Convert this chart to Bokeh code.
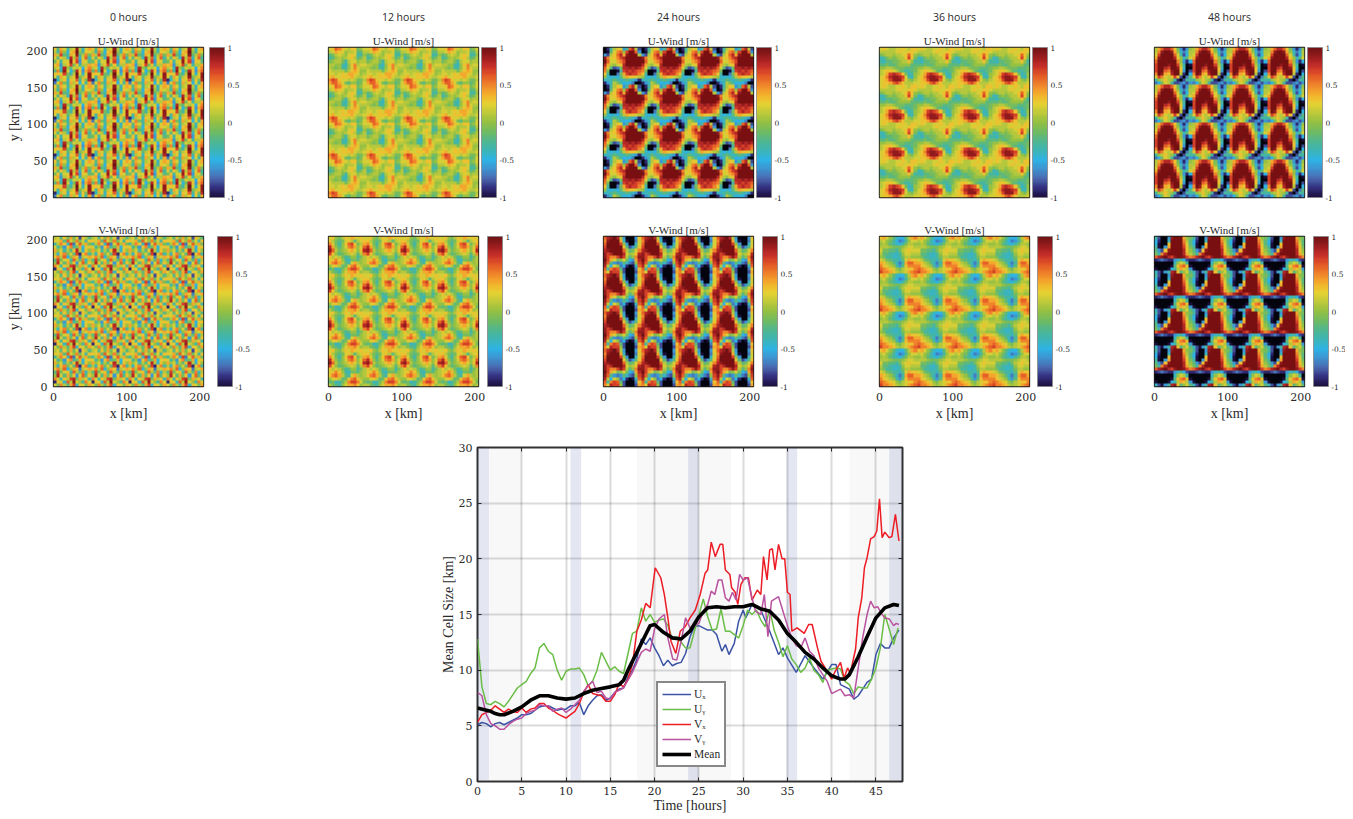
import numpy as np
from bokeh.embed import file_html
from bokeh.resources import INLINE
from bokeh.plotting import figure
from bokeh.layouts import column, row
from bokeh.models import (ColorBar, FixedTicker, Legend, LegendItem, LinearAxis, LinearColorMapper,
                          Range1d, Title)

hours_labels = ["0 hours", "12 hours", "24 hours", "36 hours", "48 hours"]

# One repeating tile of each panel, in tenths of m/s (top row first)
u_00 = [[3,-2,4,2,-3,1,2,9,1,-4,2,4],[1,-3,5,0,-5,3,4,10,0,-3,3,2],[4,1,7,-2,-3,4,2,9,-2,1,5,-1],
        [2,-2,3,1,-4,8,1,6,-4,2,6,-3],[-1,3,-3,2,2,9,3,7,-6,3,2,-2],[3,4,-6,1,3,7,-1,3,-3,1,1,4],
        [1,2,-4,8,0,-2,2,1,2,-5,3,5],[-2,5,-3,9,2,-5,-1,8,3,-6,4,6],[3,3,2,7,-1,-3,1,10,2,-4,2,9],
        [2,-3,4,2,-2,1,3,9,-1,1,3,9],[-9,-4,1,3,-4,3,2,6,-3,3,-1,8],[-7,2,5,-1,-3,4,1,3,-5,2,-3,4]]
u_12 = [[2,3,6,5,3,2,1,3,3,-1,0,2],[1,2,4,3,2,0,1,1,2,-2,-2,1],[-2,-1,1,2,1,0,2,3,2,-3,-3,0],
        [-3,-2,0,1,0,1,2,3,1,-2,-1,1],[-1,0,1,1,-1,-3,1,2,2,0,1,1],[1,1,0,0,-3,-4,0,3,5,1,2,2],
        [1,0,-1,0,-3,-3,0,2,5,2,1,1],[2,1,1,1,1,-1,1,3,4,3,0,0],[2,2,1,2,3,2,4,4,3,2,0,1],
        [3,4,2,2,3,3,3,4,2,1,1,2],[5,7,6,3,2,2,1,2,1,-1,-1,1],[4,6,6,4,2,-1,-2,0,0,-2,-1,2]]
u_24 = [[-12,-9,-3,1,3,2,-6,-3,6,8,1,-8],[-12,-10,-2,2,5,6,0,7,11,11,6,-6],[-6,-8,1,3,6,8,4,9,11,12,11,1],
        [9,5,2,3,5,7,8,11,12,11,12,10],[10,6,2,2,4,5,7,11,12,12,12,11],[8,4,1,0,2,3,8,10,11,11,12,11],
        [6,2,-2,-8,-7,-1,8,8,9,8,9,8],[5,-1,-11,-12,-10,-3,7,8,7,8,7,6],[3,-3,-12,-11,-7,-1,4,7,8,7,7,5],
        [0,-4,-5,-4,-5,-2,1,4,3,3,2,1],[-4,-4,-3,-2,-3,-4,-3,-2,-3,-4,-6,-9],[-9,-6,-4,1,-1,-3,-5,-5,-5,-7,-11,-12]]
u_36 = [[2,3,2,1,1,2,2,3,2,1,3,3],[1,1,1,1,1,2,3,2,2,3,3,2],[-1,0,1,1,0,1,1,2,3,6,3,0],
        [-4,-3,-1,0,-1,0,1,1,3,7,3,-1],[-3,-4,-2,-2,-1,-1,0,1,1,3,0,-3],[-2,-2,-1,-2,-2,-1,0,0,0,0,-2,-2],
        [0,0,1,1,0,-1,-1,-1,-2,-2,-2,-1],[1,2,3,3,2,1,-1,-2,-3,-3,-2,-1],[1,2,4,7,8,7,6,3,-1,-4,-3,0],
        [2,3,5,8,9,9,8,7,2,-3,-4,0],[2,3,4,7,9,9,9,6,2,0,-1,1],[2,3,3,4,6,7,5,3,1,1,1,2]]
u_48 = [[1,4,6,8,8,6,3,-1,-6,-9,-6,0],[1,5,9,10,11,9,4,0,-4,-7,-4,1],[2,7,10,11,11,10,6,2,-3,-8,-5,1],
        [4,9,11,11,12,11,8,3,0,-4,-2,2],[6,10,12,11,10,12,10,5,0,-6,-9,-5],[7,11,12,10,9,11,11,7,1,-3,-11,-10],
        [7,11,11,8,7,10,12,9,3,-4,-11,-12],[7,11,10,6,5,9,12,10,3,-6,-12,-8],[5,10,9,4,3,8,11,10,1,-9,-12,-5],
        [2,7,5,2,1,3,7,3,-8,-12,-7,-2],[-3,0,1,3,1,0,-3,-9,-12,-8,-3,-3],[-7,-5,-1,2,1,-3,-8,-8,-7,-6,-8,-6]]
v_00 = [[1,2,-2,3,-1,4,-1,2,-8,3,1,-2],[3,2,4,-2,6,2,0,5,-1,2,-3,3],[-3,1,5,3,-4,7,-7,2,6,1,4,-1],
        [2,-3,0,-6,3,5,-3,-1,4,-5,2,3],[4,0,2,-3,1,-2,3,8,1,-4,3,0],[1,-4,3,5,-1,2,-2,7,-9,3,5,-3],
        [3,5,1,6,-5,0,4,3,-7,1,2,4],[-2,7,-1,2,3,-3,6,1,-2,5,-4,1],[0,8,2,-2,4,-1,3,-6,2,6,-2,3],
        [5,2,-3,3,1,7,8,-1,4,1,3,-3],[-9,3,2,-4,6,1,9,2,0,-3,5,2],[2,-1,5,1,-2,4,7,-4,3,2,-1,4]]
v_12 = [[2,3,0,-1,1,3,2,4,3,2,3,2],[3,1,-1,-2,-1,2,3,1,-2,1,2,3],[5,2,-1,-3,0,3,6,7,3,-1,1,4],
        [8,4,0,-2,0,2,5,6,4,0,2,6],[9,6,1,-1,0,1,3,4,2,0,3,8],[7,3,0,-2,-1,0,1,2,1,-2,1,5],
        [3,1,2,1,-1,-3,-2,0,0,-3,-1,1],[2,3,5,3,0,-3,-4,-1,-1,-2,0,1],[3,5,6,4,1,-2,-3,2,4,1,0,1],
        [0,2,3,1,-2,-1,3,5,6,3,1,0],[-2,-1,-4,-3,-1,1,5,7,7,5,2,-1],[1,-1,-2,-3,0,2,4,4,5,3,0,1]]
v_24 = [[6,8,9,10,8,1,-6,-11,-12,-12,-6,3],[5,9,11,11,10,4,-4,-10,-12,-12,-7,2],[6,10,12,12,11,7,0,-6,-11,-11,-4,2],
        [7,10,12,12,12,10,3,-2,-8,-6,-2,3],[8,9,11,12,12,11,6,1,-2,-1,2,5],[9,7,8,11,12,11,8,2,0,1,3,8],
        [9,7,5,5,7,9,7,1,-2,0,5,9],[10,7,4,2,-1,0,2,-1,-5,-6,4,8],[9,6,-2,-6,-7,-6,-2,-4,-7,-8,0,7],
        [8,1,-5,2,0,-7,-5,-9,-11,-10,-4,6],[6,-3,5,7,6,-2,-8,-12,-12,-12,-7,3],[5,2,8,7,7,0,-8,-12,-12,-12,-8,4]]
v_36 = [[3,4,2,0,-2,-4,-5,-5,-2,1,4,5],[1,2,0,-1,-3,-5,-7,-6,-3,0,2,2],[0,1,0,-2,-3,-4,-5,-3,-1,1,1,0],
        [1,1,1,0,-1,-1,-1,0,1,2,2,1],[2,-1,-1,-2,-2,-3,-1,1,2,3,2,2],[1,-2,-2,-3,-4,-4,-3,0,2,2,1,1],
        [0,-1,-3,-3,-4,-4,-3,-1,1,1,0,0],[2,1,-1,-2,-3,-3,-4,-2,2,4,3,3],[4,3,1,0,-2,-4,-7,-3,4,6,6,4],
        [5,3,2,1,0,-3,-6,-2,3,5,5,5],[6,5,4,3,2,0,-1,1,2,3,3,5],[7,5,5,4,3,1,0,1,2,4,5,6]]
v_48 = [[-3,-8,-12,-12,-6,9,12,12,11,4,0,-1],[-5,-9,-12,-12,-4,11,12,12,12,5,1,-2],[-5,-10,-12,-11,3,12,12,12,12,6,2,-2],
        [-3,-10,-12,-6,4,12,12,12,12,7,3,-1],[-2,-6,-8,3,9,12,12,12,11,8,3,0],[-1,-3,5,8,11,12,12,12,10,8,4,1],
        [6,8,9,10,8,7,9,11,11,9,7,5],[-9,-8,-7,-8,-9,-9,-6,-4,-3,-5,-8,-9],[-12,-12,-12,-12,-12,-12,-4,0,2,1,-3,-12],
        [-12,-12,-12,-12,-12,-10,-2,3,5,6,3,-10],[-10,-12,-12,-12,-10,-5,-3,1,4,3,1,-6],[-4,-8,-10,-6,-3,8,9,3,-2,0,2,-2]]

# Line chart series
half_hours = [i / 2 for i in range(34)]
ux_a = [5.1,5.3,5.2,4.9,5.2,5.3,5.1,5.3,5.5,5.7,6.0,6.0,6.1,6.4,6.7,6.8,6.8,6.6,6.4,6.5,6.5,6.8,6.8,7.1,6.0,6.8,7.3,7.7,7.8,7.3,7.5,8.0,8.3,8.4]
ux_h = half_hours + [17,17.5,18,18.5,19,19.5,20,20.5,21,21.5,22,22.5,23,23.5,24,24.5,25,25.5,26,26.5,27,27.6,28,28.4,29,29.5,30,30.3,31,32,33,34,34.5,35,36,37,38,39,40,40.5,41,42,42.5,43,44,44.5,45,45.5,46,46.5,47,47.6]
ux = ux_a + [9.4,10,11,12.8,12.3,12.9,12,11.3,10.4,10.9,10.4,10.6,10.7,11.5,13,13.9,14,13.8,13.6,13.6,13.2,11.7,12.3,11.4,12.4,14.4,15.4,14.7,15.9,15.4,13.5,11.4,12,11.1,9.8,11.3,10.2,9.2,10.5,10.5,8.7,8.3,7.4,7.7,8.9,9.2,11.4,12.4,12,12,12.9,13.6]
uy_h = [i / 2 for i in range(96)]
uy = [12.8,8.5,7.0,6.9,7.2,7.0,6.7,7.2,7.8,8.4,8.7,9.0,9.7,10.2,12.0,12.4,11.7,11.4,10.0,9.1,9.9,10.1,10.1,10.2,9.6,8.6,9.0,10.0,11.6,10.8,10.0,10.3,9.9,9.7,
      11.5,13.3,13.5,15.6,14.4,15.0,14.3,14.5,14.6,14.0,12.8,13.0,12.5,12.0,12.0,13.5,14.9,16.4,14.8,13.6,13.7,15.5,13.5,13.5,13.2,12.9,14.0,15.4,15.0,15.4,14.5,13.9,15.5,13.6,12.5,11.2,
      12.2,11.0,10.5,9.8,10.2,11.1,10.0,9.6,8.9,10.0,10.1,10.2,10.1,9.0,8.7,7.9,8.5,8.4,8.4,9.2,10.2,12.0,15.0,13.7,12.3,13.8]
vx_h = half_hours + [17,17.5,18,18.5,19,19.5,20.07,20.7,21.1,21.5,21.85,22.4,22.9,23.45,24,24.6,25.15,25.7,26,26.4,26.85,27.4,27.7,28,28.5,28.7,29.1,29.4,29.75,30.2,30.6,31,31.6,32,32.3,32.7,33,33.3,33.6,34,34.4,34.7,35,35.3,35.5,36.1,36.9,37.4,37.8,38.4,38.8,39.5,40,40.4,41,41.4,41.8,42.1,42.7,43,43.4,43.7,44,44.4,44.8,45.1,45.4,45.7,46,46.5,46.8,47.2,47.6]
vx = [5.3,6.0,6.2,6.4,6.8,6.5,6.2,6.5,6.3,6.2,6.6,6.2,6.5,6.6,7.0,7.0,6.6,6.4,6.1,5.9,5.7,6.0,6.3,7.0,8.0,8.7,7.9,7.8,7.7,7.2,7.2,7.8,8.8,8.5,
      9.2,10.5,13.5,14.5,16.0,15.6,19.2,18.3,16.8,14.7,12.6,11.5,13.5,13.9,14.7,15.4,16.8,18.7,19.0,21.5,20.2,21.3,21.3,19.0,18.6,17.4,17.0,15.9,17.7,18.3,18.3,16.3,17.2,16.8,20.2,18.1,20.8,20.9,19.0,21.3,20.0,20.0,17.0,16.8,13.5,13.8,13.3,14.1,14.1,12.0,10.8,9.9,9.2,9.9,10.7,9.3,10.2,9.7,11.9,14.7,16.5,19.2,20.1,21.8,22.0,22.5,25.4,21.9,22.4,21.9,22.0,24.0,21.6]
vy_h = half_hours + [17,17.5,18,18.5,19,19.5,20,20.5,21.1,21.5,22.05,22.5,23,23.5,24,24.5,25,25.5,26,26.4,26.8,27.2,27.6,28,28.4,28.8,29.2,29.6,30,30.5,31,31.4,32,32.4,32.8,33.2,33.6,34,34.5,35,35.5,36,36.5,37,37.5,38,38.5,39,39.5,40,40.5,41,41.5,42,42.5,43,43.5,44,44.4,44.8,45.2,45.6,46,46.5,47,47.3,47.6]
vy = [8.0,7.7,6.0,5.2,5.0,4.7,4.7,5.1,5.4,5.6,5.7,6.1,6.3,6.4,6.9,6.8,6.8,6.3,6.5,6.6,6.2,6.5,6.9,7.3,8.1,8.6,9.0,8.0,8.1,7.5,7.4,8.0,8.2,8.4,
      9.1,9.8,10.7,11.6,11.9,11.7,13.7,14.6,15.0,12.9,11.0,10.9,12.6,14.7,13.8,14.0,14.2,15.3,15.9,17.1,16.8,18.1,18.1,16.5,16.2,17.0,16.3,18.6,18.1,18.3,16.5,15.3,15.0,16.8,13.0,16.2,16.4,16.6,15.3,14.0,12.9,12.2,12.0,12.9,11.7,11.3,10.2,9.6,9.0,7.9,8.1,8.3,7.7,7.8,7.5,10.2,12.9,15.0,16.2,15.6,15.7,15.1,14.7,14.6,14.0,14.2,14.1]
mean_h = [0,1,1.5,2,2.5,3,4,5,6,7,8,9,10,11,12,13,14,15,16,16.5,17,18,19,19.5,20,21,22,23,24,25,26,27,28,29,30,31,32,33,34,35,36,37,38,39,40,41,41.5,42,43,44,45,46,47,47.6]
mean = [6.6,6.4,6.3,6.1,6.0,6.0,6.3,6.7,7.3,7.7,7.7,7.5,7.4,7.5,7.9,8.2,8.35,8.5,8.7,9.1,10.0,11.6,13.2,14.0,14.1,13.4,12.9,12.8,13.5,14.8,15.6,15.7,15.6,15.7,15.7,15.9,15.5,15.3,14.5,13.3,12.5,11.6,11.0,10.2,9.5,9.2,9.2,9.6,11.2,13.0,14.7,15.6,15.9,15.8]

gray_starts = [1.3, 18.0, 42.0]
gray_ends = [5.0, 28.65, 48.0]
blue_starts = [0.0, 10.5, 23.8, 34.9, 46.5]
blue_ends = [1.3, 11.7, 25.0, 36.1, 48.0]

cmap_stops = ["#1c0f3e", "#34307f", "#4a69b0", "#3e93d0", "#2fb3e5", "#3db5b5", "#4fb690", "#6fbb62", "#93c043",
              "#bdc93a", "#e6d233", "#f4b02c", "#f0862a", "#e45a26", "#c9302a", "#9c1d1f", "#701214"]
rgb = np.array([[int(c[i:i + 2], 16) for i in (1, 3, 5)] for c in cmap_stops], dtype=float)
pos = np.linspace(0, 1, len(rgb))
grid = np.linspace(0, 1, 128)
palette = ["#%02x%02x%02x" % tuple(int(round(np.interp(g, pos, rgb[:, k]))) for k in range(3)) for g in grid]
mapper = LinearColorMapper(palette=palette, low=-1, high=1, low_color="#04040f", high_color="#7a0f12")

SERIF = "Liberation Serif"
NUM = "DejaVu Serif"
SANS = "Open Sans"
INK = "#2a2a2a"
COL_L = [53, 28, 28, 28, 28]
COL_R = [97, 97, 98, 97, 41]
BAR_X = [[156, 153, 153, 153, 153], [164, 159, 159, 158, 159]]


def panel(tile, col, rown):
    first, bottom = col == 0, rown == 1
    top = 47 if rown == 0 else 31
    p = figure(frame_width=150, frame_height=150, output_backend="svg", toolbar_location=None,
               x_range=Range1d(0, 205), y_range=Range1d(0, 205),
               min_border_left=COL_L[col], min_border_right=COL_R[col], min_border_top=top,
               min_border_bottom=8 if rown == 0 else 0,
               background_fill_color="white", border_fill_color="white")
    data = np.flipud(np.tile(np.array(tile, dtype=float) / 10.0, (4, 4)))
    p.image(image=[data], x=0, y=0, dw=205, dh=205, color_mapper=mapper)
    p.grid.visible = False
    p.outline_line_color = "#1a1a1a"
    p.outline_line_width = 1.3
    for ax, on, ticks, lab in ((p.xaxis[0], bottom, [0, 100, 200], "x [km]"), (p.yaxis[0], first, [0, 50, 100, 150, 200], "y [km]")):
        ax.ticker = FixedTicker(ticks=ticks)
        ax.major_tick_in = ax.major_tick_out = ax.minor_tick_in = ax.minor_tick_out = 0
        ax.axis_line_color = None
        ax.major_label_text_font = NUM
        ax.major_label_text_font_size = "11px"
        ax.major_label_text_color = INK
        ax.major_label_standoff = 6
        ax.axis_label = lab
        ax.axis_label_text_font = SERIF
        ax.axis_label_text_font_size = "14px"
        ax.axis_label_text_font_style = "normal"
        ax.axis_label_text_color = INK
        ax.axis_label_standoff = 2
        ax.visible = on
    name = "U-Wind [m/s]" if rown == 0 else "V-Wind [m/s]"
    p.add_layout(Title(text=name, text_font=SERIF, text_font_size="11px", text_font_style="normal", text_color=INK,
                       align="center", standoff=2, offset=0), "above")
    if rown == 0:
        p.add_layout(Title(text=hours_labels[col], text_font=SANS, text_font_size="10.5px", text_font_style="normal",
                           text_color=INK, align="center", standoff=15), "above")
    bar = ColorBar(color_mapper=mapper, location=(BAR_X[rown][col], 0), width=15, height=150, padding=0, margin=0,
                   ticker=FixedTicker(ticks=[-1, -0.5, 0, 0.5, 1]),
                   major_label_overrides={-1: "-1", -0.5: "-0.5", 0: "0", 0.5: "0.5", 1: "1"},
                   major_label_text_font=NUM, major_label_text_font_size="7.5px", major_label_text_color=INK,
                   major_tick_line_color=None, minor_tick_line_color=None, label_standoff=3,
                   bar_line_color="#888888", bar_line_width=0.8, border_line_color=None, background_fill_color=None)
    p.add_layout(bar)
    return p


top_row = row([panel(t, i, 0) for i, t in enumerate([u_00, u_12, u_24, u_36, u_48])], spacing=0)
mid_row = row([panel(t, i, 1) for i, t in enumerate([v_00, v_12, v_24, v_36, v_48])], spacing=0)

c = figure(frame_width=425, frame_height=334, output_backend="svg", toolbar_location=None,
           x_range=Range1d(0, 48), y_range=Range1d(0, 30), min_border_left=477, min_border_right=10, min_border_top=24, min_border_bottom=0,
           background_fill_color="white", border_fill_color="white")
c.quad(left=gray_starts, right=gray_ends, bottom=0.12, top=30, fill_color="#000000", fill_alpha=0.026, line_color=None)
c.quad(left=blue_starts, right=blue_ends, bottom=0.12, top=30, fill_color="#2f4398", fill_alpha=0.13, line_color=None)
r_ux = c.line(ux_h, ux, line_color="#3b53a4", line_width=1.5)
r_uy = c.line(uy_h, uy, line_color="#6abd45", line_width=1.5)
r_vx = c.line(vx_h, vx, line_color="#ed1c24", line_width=1.5)
r_vy = c.line(vy_h, vy, line_color="#b9529f", line_width=1.5)
r_mean = c.line(mean_h, mean, line_color="#000000", line_width=3.6, line_join="round")

xticks = list(range(0, 46, 5))
yticks = list(range(0, 31, 5))
c.xaxis[0].ticker = FixedTicker(ticks=xticks)
c.yaxis[0].ticker = FixedTicker(ticks=yticks)
c.xaxis[0].axis_label = "Time [hours]"
c.yaxis[0].axis_label = "Mean Cell Size [km]"
for ax in (c.xaxis[0], c.yaxis[0]):
    ax.major_tick_in = 4
    ax.major_tick_out = 0
    ax.minor_tick_in = ax.minor_tick_out = 0
    ax.major_tick_line_color = INK
    ax.axis_line_color = None
    ax.major_label_text_font = NUM
    ax.major_label_text_font_size = "11px"
    ax.major_label_text_color = INK
    ax.major_label_standoff = 5
    ax.axis_label_text_font = SERIF
    ax.axis_label_text_font_size = "14px"
    ax.axis_label_text_font_style = "normal"
    ax.axis_label_text_color = INK
    ax.axis_label_standoff = 0
for g in (c.xgrid[0], c.ygrid[0]):
    g.grid_line_color = "#000000"
    g.grid_line_alpha = 0.14
    g.grid_line_width = 2
c.xgrid[0].ticker = FixedTicker(ticks=list(range(5, 46, 5)))
c.ygrid[0].ticker = FixedTicker(ticks=list(range(5, 30, 5)))
c.outline_line_color = "#333333"
c.outline_line_width = 2

ytw = LinearAxis(ticker=FixedTicker(ticks=yticks), major_label_overrides={t: "" for t in yticks}, major_tick_in=4, major_tick_out=0,
                 minor_tick_in=0, minor_tick_out=0, axis_line_color=None, major_tick_line_color=INK)
xtw = LinearAxis(ticker=FixedTicker(ticks=xticks), major_label_overrides={t: "" for t in xticks}, major_tick_in=4, major_tick_out=0,
                 minor_tick_in=0, minor_tick_out=0, axis_line_color=None, major_tick_line_color=INK)
c.add_layout(ytw, "right")
c.add_layout(xtw, "above")

legend = Legend(items=[LegendItem(label="U\u2093", renderers=[r_ux]), LegendItem(label="U\u1d67", renderers=[r_uy]),
                       LegendItem(label="V\u2093", renderers=[r_vx]), LegendItem(label="V\u1d67", renderers=[r_vy]),
                       LegendItem(label="Mean", renderers=[r_mean])],
                location=(179, 14), orientation="vertical", background_fill_color="white", background_fill_alpha=1,
                border_line_color="#111111", border_line_width=2, label_text_font=SERIF, label_text_font_size="11.5px",
                label_text_color=INK, glyph_width=29, glyph_height=14, label_height=14, label_standoff=3, spacing=1,
                padding=4, margin=0)
c.add_layout(legend)

page = column(top_row, mid_row, c, spacing=0)
open("out.html", "w").write(file_html(page, INLINE))
